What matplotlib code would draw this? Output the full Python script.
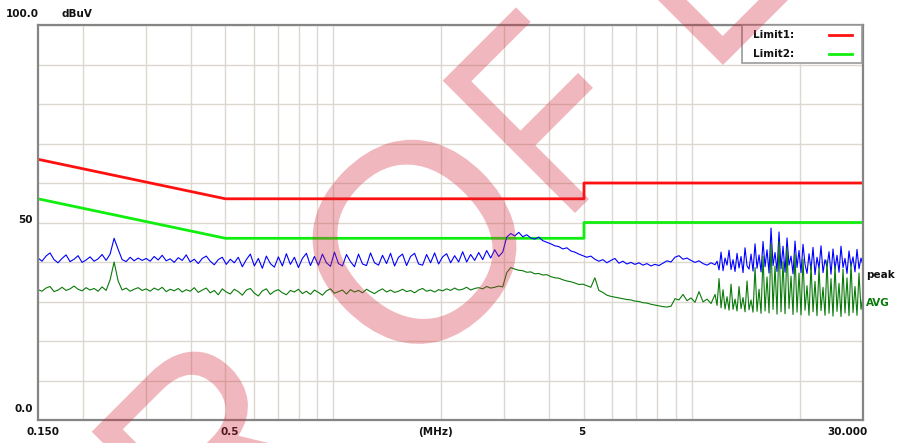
import numpy as np
import matplotlib.pyplot as plt
from matplotlib.transforms import blended_transform_factory, Affine2D
from matplotlib.textpath import TextPath
from matplotlib.patches import PathPatch, Rectangle
from matplotlib.lines import Line2D
from matplotlib.font_manager import FontProperties

# Пределы (лимиты) - частота в МГц, уровень в дБмкВ
lim_f = [0.15, 0.5, 5.0, 5.0, 30.0]
limit1 = [66, 56, 56, 60, 60]
limit2 = [56, 46, 46, 50, 50]
lim_names = ['Limit1:', 'Limit2:']
lim_colors = ['#ff1010', '#10ee10']

# Точки развёртки приёмника: до 11.6 МГц шаг крупнее, выше - мельче
f_start, f_mid, f_stop = 0.15, 11.6, 30.0
freq = np.concatenate([np.geomspace(f_start, f_mid, 170),
                       np.geomspace(f_mid, f_stop, 75)[1:]])

# Пиковый детектор (peak), дБмкВ
peak = [
    41.0, 40.2, 41.5, 42.3, 40.6, 39.8, 40.9, 41.8, 40.1, 40.7,
    41.6, 39.9, 40.5, 41.3, 40.2, 40.8, 41.9, 40.4, 42.0, 46.0,
    43.2, 40.6, 40.1, 41.2, 40.3, 41.0, 40.4, 40.9, 40.2, 41.4,
    40.5, 41.7, 40.3, 40.8, 39.9, 41.1, 40.4, 41.8, 40.0, 40.7,
    39.6, 40.9, 41.5, 40.2, 39.3, 40.6, 41.2, 39.4, 40.7, 39.8,
    41.2, 38.8, 40.6, 42.0, 39.0, 40.9, 38.4, 41.5, 39.6, 38.7,
    41.3, 39.0, 42.1, 39.4, 41.2, 38.6, 40.9, 42.2, 39.1, 41.4,
    39.2, 42.0, 39.8, 38.9, 42.5, 39.6, 39.0, 41.9, 40.1, 38.8,
    42.0, 39.5, 39.1, 42.3, 39.8, 39.2, 41.7, 39.6, 42.2, 39.0,
    41.2, 42.0, 39.1, 41.4, 42.2, 39.5, 39.2, 41.9, 39.8, 42.3,
    39.5, 41.3, 42.1, 39.8, 41.6, 40.0, 42.6, 40.0, 41.9, 40.4,
    42.4, 40.6, 42.9, 41.0, 43.1, 41.4, 42.5, 46.3, 47.2, 46.6,
    47.5, 46.4, 46.9, 46.1, 45.8, 46.3, 45.4, 45.0, 44.6, 44.1,
    43.9, 43.3, 43.6, 42.8, 42.5, 42.0, 41.6, 41.2, 41.5, 40.7,
    40.2, 40.6, 39.8, 40.4, 40.9, 39.7, 40.2, 39.5, 39.9, 39.4,
    39.8, 39.2, 39.6, 39.0, 39.4, 39.1, 39.7, 40.3, 40.0, 41.2,
    41.6, 40.7, 41.0, 40.4, 39.9, 40.3, 39.6, 39.2, 39.8, 39.3,
    # плотная область > 11.6 МГц
    40.2, 38.0, 42.5, 37.8, 41.0, 39.2, 43.0, 38.1, 40.6, 37.6,
    42.2, 38.5, 41.4, 37.3, 43.6, 39.0, 38.2, 42.0, 37.7, 44.6,
    38.4, 41.8, 37.5, 45.2, 38.8, 43.1, 37.2, 48.6, 39.1, 42.4,
    37.6, 47.6, 38.3, 44.0, 37.4, 46.1, 39.2, 41.5, 37.0, 45.3,
    38.6, 42.9, 37.3, 44.5, 39.4, 37.1, 42.1, 38.0, 43.7, 36.8,
    41.2, 38.4, 44.1, 37.3, 40.6, 38.8, 42.6, 36.9, 43.3, 38.2,
    41.7, 37.4, 44.0, 38.6, 40.9, 37.1, 42.8, 38.9, 41.3, 37.5,
    43.2, 38.3, 41.0, 39.2,
]

# Детектор среднего (AVG), дБмкВ
avg = [
    33.0, 32.6, 33.4, 33.8, 32.5, 32.9, 33.6, 32.8, 33.2, 33.9,
    33.1, 32.7, 33.5, 32.9, 33.3, 32.6, 33.7, 32.8, 35.5, 40.0,
    35.2, 32.9, 33.4, 32.6, 33.1, 33.5, 32.8, 33.2, 32.6, 33.4,
    32.9, 33.6, 32.5, 33.1, 32.7, 33.3, 32.4, 33.0, 32.6, 33.5,
    32.3, 32.9, 33.4, 32.2, 32.8, 31.7, 33.2, 32.4, 31.9, 33.1,
    32.5, 31.6, 32.9, 33.3, 32.1, 31.4, 32.7, 33.2, 31.8, 32.6,
    33.0, 32.2, 31.7, 32.8, 32.4, 33.1, 32.0, 32.6, 31.8, 32.9,
    32.3, 31.6, 32.7, 33.2, 32.1, 32.5, 32.9, 31.9, 33.0, 32.4,
    32.8, 32.2, 33.1, 32.5, 32.0, 32.7, 33.2, 32.4, 32.9, 32.3,
    32.6, 33.1, 32.5, 32.8, 32.2, 32.9, 33.3, 32.6, 32.9, 32.4,
    33.0, 32.7, 33.2, 32.8, 33.4, 32.9, 33.1, 33.6, 32.9, 33.3,
    33.5, 33.2, 33.8, 33.4, 33.6, 33.9, 33.7, 37.3, 38.6, 38.2,
    37.9, 37.8, 37.4, 37.5, 37.0, 37.1, 36.7, 36.8, 36.3, 36.0,
    35.9, 35.5, 35.2, 35.0, 34.7, 34.3, 34.4, 34.0, 33.6, 36.0,
    32.8, 32.3, 31.6, 31.3, 31.1, 30.9, 30.7, 30.5, 30.4, 30.1,
    30.0, 29.7, 29.6, 29.3, 29.1, 28.9, 28.7, 28.6, 28.8, 30.7,
    30.4, 31.8, 30.2, 30.9, 29.8, 32.5, 29.9, 30.6, 29.5, 31.8,
    # плотная область > 11.6 МГц
    29.0, 35.8, 28.4, 33.0, 28.1, 31.2, 27.8, 34.4, 28.0, 30.6,
    27.6, 33.8, 28.2, 31.0, 27.4, 35.2, 27.9, 30.4, 27.3, 38.6,
    27.5, 33.1, 27.0, 41.5, 27.6, 36.2, 27.1, 44.6, 28.0, 39.0,
    26.8, 45.2, 27.4, 40.1, 26.9, 43.8, 28.2, 36.4, 26.7, 42.0,
    27.3, 37.2, 26.6, 40.8, 27.8, 34.0, 26.5, 39.2, 27.4, 35.1,
    26.4, 38.6, 27.7, 33.6, 26.5, 40.4, 27.0, 35.8, 26.3, 39.0,
    27.5, 34.6, 26.2, 38.2, 27.1, 36.0, 26.4, 39.6, 27.2, 33.8,
    26.5, 37.2, 28.0, 31.5,
]

grid_f = [0.2, 0.3, 0.4, 0.5, 0.6, 0.7, 0.8, 0.9, 1, 2, 3, 4, 5, 6, 7, 8, 9, 10, 20]

plt.rcParams['font.family'] = ['DejaVu Sans']

W, H = 897, 443
fig = plt.figure(figsize=(W / 100, H / 100), dpi=100)
ax = fig.add_axes([38 / W, 1 - 420 / H, 825 / W, 395 / H])

ax.set_xscale('log')
ax.set_xlim(0.15, 30)
ax.set_ylim(0, 100)
ax.set_xticks(grid_f)
ax.set_xticks([], minor=True)
ax.set_yticks(np.arange(0, 101, 10))
ax.tick_params(length=0, labelbottom=False, labelleft=False)
ax.grid(True, color='#dcd8d0', lw=1.0)
ax.set_axisbelow(True)
for s in ax.spines.values():
    s.set_color('#858585')
    s.set_linewidth(1.6)

ax.plot(lim_f, limit1, color=lim_colors[0], lw=2)
ax.plot(lim_f, limit2, color=lim_colors[1], lw=2)
ax.plot(freq, peak, color='#0000ff', lw=0.8)
ax.plot(freq, avg, color='#0a7a0a', lw=0.8)

lab = dict(fontsize=7.5, fontweight='bold', color='#111111')

# легенда в правом верхнем углу (рамка как в программе)
fig.add_artist(Rectangle((742 / W, 1 - 63 / H), 120 / W, 38 / H, transform=fig.transFigure,
                         facecolor='white', edgecolor='#999999', lw=1.2, zorder=5))
for k, (name, col) in enumerate(zip(lim_names, lim_colors)):
    yy = 1 - (35 + 19 * k) / H
    fig.text(753 / W, yy, name, ha='left', va='center', zorder=6, **lab)
    fig.add_artist(Line2D([829 / W, 852 / W], [yy, yy], transform=fig.transFigure,
                          color=col, lw=2, zorder=6))

# подписи осей
fig.text(6 / W, 1 - 14 / H, '100.0', ha='left', va='center', **lab)
fig.text(61 / W, 1 - 14 / H, 'dBuV', ha='left', va='center', **lab)
fig.text(33 / W, 1 - 220 / H, '50', ha='right', va='center', **lab)
fig.text(33 / W, 1 - 409 / H, '0.0', ha='right', va='center', **lab)
xl_y = 1 - 432 / H
fig.text(43 / W, xl_y, '0.150', ha='center', va='center', **lab)
fig.text(230 / W, xl_y, '0.5', ha='center', va='center', **lab)
fig.text(435 / W, xl_y, '(MHz)', ha='center', va='center', **lab)
fig.text(582 / W, xl_y, '5', ha='center', va='center', **lab)
fig.text(868 / W, xl_y, '30.000', ha='right', va='center', **lab)

tr = blended_transform_factory(ax.transAxes, ax.transData)
ax.text(1.004, 36.7, 'peak', transform=tr, ha='left', va='center', clip_on=False, **lab)
ax.text(1.004, 29.6, 'AVG', transform=tr, ha='left', va='center', clip_on=False,
        fontsize=7.5, fontweight='bold', color='#0a7a0a')

# водяной знак (буквы по диагонали, полупрозрачные)
fp = FontProperties(family='Liberation Sans')
em = 272
wm = [('R', 224, 564, 0.93, 1.0), ('O', 415, 242, 1.0, 1.04),
      ('F', 575, 213, 0.78, 1.0), ('E', 723, 65, 0.8, 1.0)]
for ch, px, py, sx, k in wm:
    tp = TextPath((0, 0), ch, size=em * k, prop=fp)
    e = tp.get_extents()
    if ch == 'O':
        sh = (-(e.x0 + e.x1) / 2, -(e.y0 + e.y1) / 2)
    else:
        sh = (-e.x0, 0)
    t = Affine2D().translate(*sh).scale(sx, 1).rotate_deg(45).translate(px, H - py)
    fig.add_artist(PathPatch(tp, transform=t, facecolor='#d42a3a', edgecolor='none',
                             alpha=0.33, zorder=10))

fig.savefig('out.png', dpi=100)
